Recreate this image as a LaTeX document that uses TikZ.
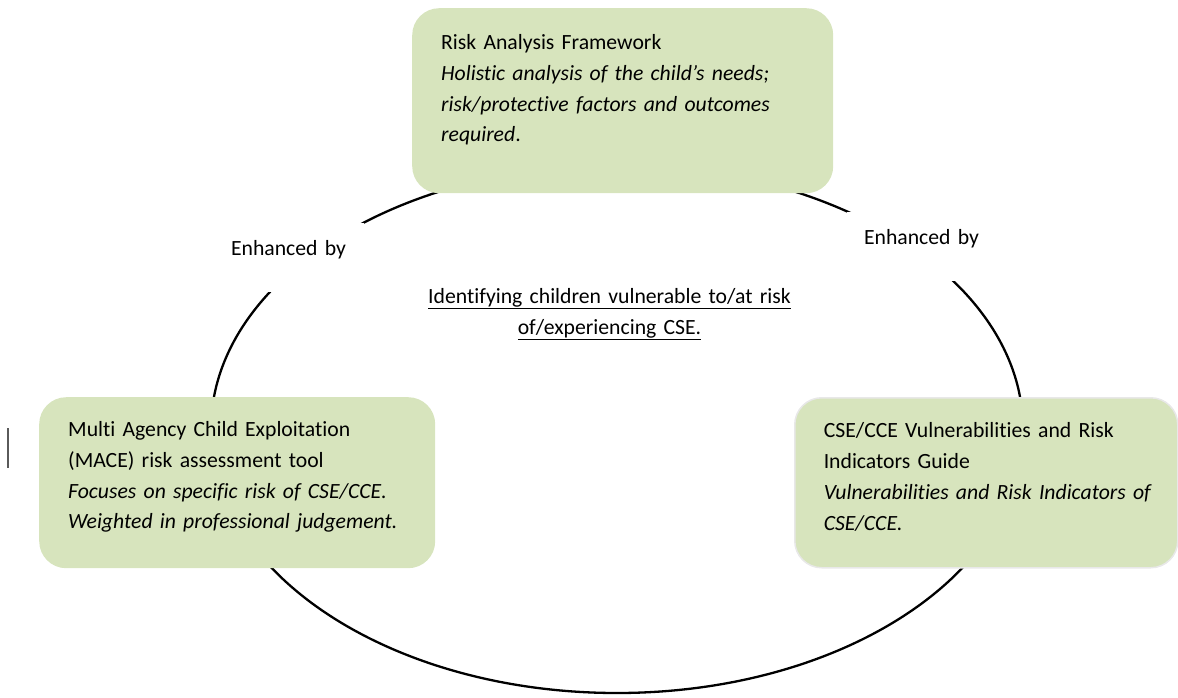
\documentclass[tikz,border=0pt]{standalone}
\usepackage{fontspec}
\setmainfont[Ligatures={NoCommon}]{Carlito}
\usepackage{tikz}
\usepackage{xcolor}

\begin{document}
\begin{tikzpicture}[x=1pt,y=-1pt,
  greenBox/.style={fill=boxGreen,rounded corners=27pt,inner ysep=0pt,inner xsep=0pt,
    align=left,anchor=north west,font=\fontsize{21.7}{30.9}\selectfont},
  plainText/.style={fill=white,inner sep=0pt,anchor=north,font=\fontsize{21.7}{30.9}\selectfont}]
\useasboundingbox (0,0) rectangle (1178,697);
\definecolor{boxGreen}{RGB}{215,228,189}
\definecolor{boxEdge}{RGB}{232,232,232}
\definecolor{markGray}{RGB}{90,90,90}
\draw[line width=2.3pt] (617,429) ellipse [x radius=406, y radius=264];
\node[greenBox,minimum width=421pt,text width=363pt,text height=41pt,text depth=144pt,
  xshift=29pt] (riskFramework) at (383,8)
  {Risk Analysis Framework\\ \textit{Holistic analysis of the child’s needs;}\\
   \textit{risk/protective factors and outcomes}\\ \textit{required}.};
\node[greenBox,text width=338pt,text height=39pt,text depth=132pt,
  inner xsep=29pt] (maceTool) at (39,397)
  {Multi Agency Child Exploitation\\ (MACE) risk assessment tool\\
   \textit{Focuses on specific risk of CSE/CCE.}\\ \textit{Weighted in professional judgement.}};
\node[greenBox,draw=boxEdge,line width=1.5pt,text width=325pt,text height=40pt,text depth=130pt,
  inner xsep=29pt] (cseGuide) at (794,397)
  {CSE/CCE Vulnerabilities and Risk\\ Indicators Guide\\
   \mbox{\textit{Vulnerabilities and Risk Indicators of}}\\ \textit{CSE/CCE.}};
\node[plainText,text width=150pt,align=center,text height=32pt,text depth=37pt]
  (enhancedLeft) at (288.5,223) {Enhanced by};
\node[plainText,text width=150pt,align=center,text height=32pt,text depth=37pt]
  (enhancedRight) at (921.5,212) {Enhanced by};
\node[plainText,fill=none,text width=420pt,align=center,text height=23pt,text depth=40pt]
  (identifyText) at (609.5,280)
  {\underline{Identifying children vulnerable to/at risk}\\ \underline{of/experiencing CSE.}};
\draw[markGray,line width=1.5pt] (8,428) -- (8,468);
\end{tikzpicture}
\end{document}
